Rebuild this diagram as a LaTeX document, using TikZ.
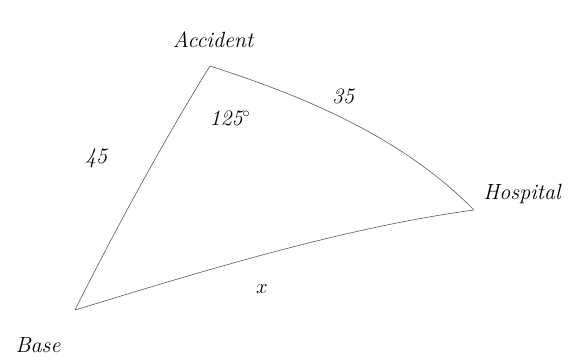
\documentclass[tikz,border=0pt]{standalone}
\begin{document}
\begin{tikzpicture}[x=1pt,y=-1pt,
  edge/.style={draw=black!65, line width=0.6pt},
  lab/.style={font=\itshape\fontsize{22}{26}\selectfont, inner sep=0pt}]
\useasboundingbox (0,0) rectangle (568,360);
\coordinate (A) at (210,66);
\coordinate (B) at (75,310);
\coordinate (H) at (474,210);
\draw[edge] (A) .. controls (170,130) and (120,220) .. (B);
\draw[edge] (A) .. controls (300,95) and (400,135) .. (H);
\draw[edge] (B) .. controls (190,275) and (340,228) .. (H);
\node[lab] (la) at (213,40) {Accident};
\node[lab] (lb) at (38,345) {Base};
\node[lab] (lh) at (522,194) {Hospital};
\node[lab] (l45) at (96,158) {45};
\node[lab] (l35) at (343,96) {35};
\node[lab] (l125) at (230,118) {125$^{\circ}$};
\node[lab] (lx) at (262,289) {$x$};
\end{tikzpicture}
\end{document}
